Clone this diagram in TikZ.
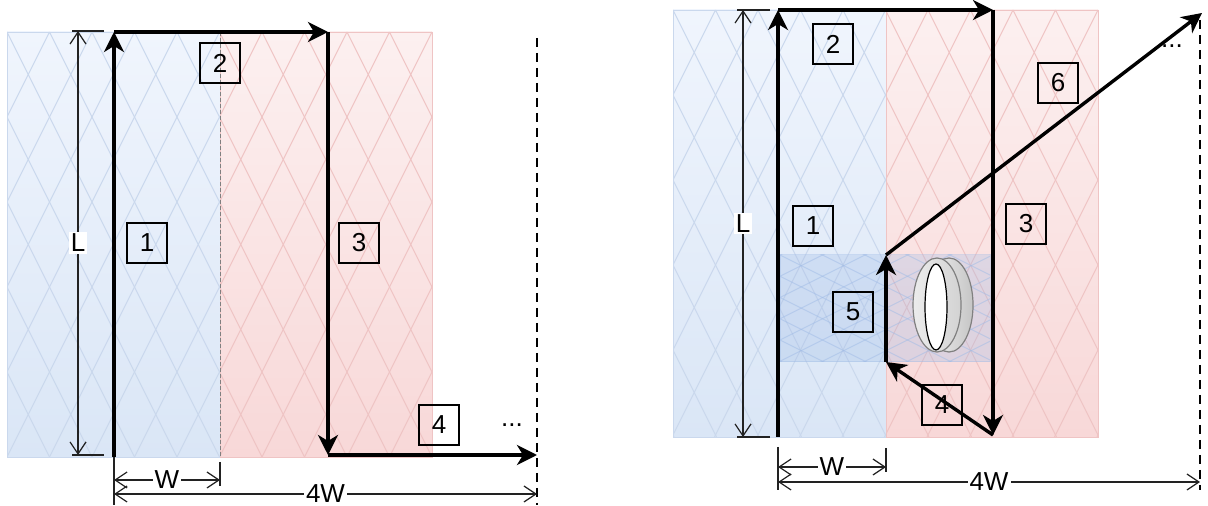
\documentclass[tikz,border=0pt]{standalone}
\usepackage{fontspec}
\setmainfont{Liberation Sans}
\usetikzlibrary{arrows.meta}

\definecolor{bluetop}{HTML}{F0F5FD}
\definecolor{bluebot}{HTML}{DAE6F6}
\definecolor{redtop}{HTML}{FCF0F0}
\definecolor{redbot}{HTML}{F8D8D8}
\definecolor{blueline}{HTML}{CAD8ED}
\definecolor{redline}{HTML}{EFC4C4}
\definecolor{zoneblue}{HTML}{9FBBE6}
\definecolor{dimgray}{HTML}{222222}

\tikzset{
    flow/.style={line width=1.7pt, -{Stealth[length=10pt,width=10pt,inset=3pt]}},
    dimline/.style={line width=0.6pt, draw=dimgray,
        {Straight Barb[length=6pt,width=8pt]}-{Straight Barb[length=6pt,width=8pt]}},
    ext/.style={line width=0.6pt, draw=dimgray},
    limit/.style={line width=1.3pt, dash pattern=on 4.5pt off 3pt},
    numbox/.style={draw, line width=0.6pt, minimum size=20pt, inner sep=0pt},
    dimlabel/.style={fill=white, inner sep=1pt},
    hatch/.style={line width=0.5pt},
}

\begin{document}
\begin{tikzpicture}[x=0.5pt, y=-0.5pt, font=\fontsize{13}{15}\selectfont]
    \useasboundingbox (0,0) rectangle (1208,506);

    %%% left: straight path
    \shade[top color=bluetop, bottom color=bluebot, draw=blueline] (7,32) rectangle (220,457);
    \shade[top color=redtop, bottom color=redbot, draw=redline] (220,32) rectangle (432,457);
    % hatching
    \begin{scope}
        \clip (7,32) rectangle (220,457);
        \foreach \k in {-5,...,15}
            \draw[hatch, blueline] ({7+42.5*\k},32) -- ++(212.5,425)
                ({7+42.5*\k},32) -- ++(-212.5,425);
    \end{scope}
    \begin{scope}
        \clip (220,32) rectangle (432,457);
        \foreach \k in {-5,...,15}
            \draw[hatch, redline] ({7+42.5*\k},32) -- ++(212.5,425)
                ({7+42.5*\k},32) -- ++(-212.5,425);
    \end{scope}
    \draw[gray, line width=0.5pt, dash pattern=on 2pt off 1pt] (220,32) -- (220,457);

    % path corners
    \coordinate (p0) at (114,457);
    \coordinate (p1) at (114,32);
    \coordinate (p2) at (328,32);
    \coordinate (p3) at (328,455);
    \coordinate (p4) at (537,455);
    \draw[flow] (p0) -- (p1);
    \draw[flow] (p1) -- (p2);
    \draw[flow] (p2) -- (p3);
    \draw[flow] (p3) -- (p4);
    \coordinate (e0) at (537,38);
    \coordinate (e1) at (537,505);
    \draw[limit] (e0) -- (e1);

    \node[numbox] (a1) at (147,243) {1};
    \node[numbox] (a2) at (220,63) {2};
    \node[numbox] (a3) at (359,243) {3};
    \node[numbox] (a4) at (439,425) {4};
    \node (adots) at (512,425) {...};

    % dimensions
    \draw[ext] (72,31) -- (104,31) (72,455) -- (104,455);
    \draw[dimline] (78,31) -- node[dimlabel] {L} (78,455);
    \draw[ext] (114,457) -- (114,505) (220,462) -- (220,486);
    \draw[dimline] (114,480) -- node[dimlabel] {W} (220,480);
    \draw[dimline] (114,494) -- node[dimlabel] {4W} (537,494);

    %%% right: path with the blockage
    \shade[top color=bluetop, bottom color=bluebot, draw=blueline] (673,10) rectangle (886,437);
    \shade[top color=redtop, bottom color=redbot, draw=redline] (886,10) rectangle (1098,437);
    \begin{scope}
        \clip (673,10) rectangle (886,437);
        \foreach \k in {-5,...,15}
            \draw[hatch, blueline] ({673+42.5*\k},10) -- ++(213.5,427)
                ({673+42.5*\k},10) -- ++(-213.5,427);
    \end{scope}
    \begin{scope}
        \clip (886,10) rectangle (1098,437);
        \foreach \k in {-5,...,15}
            \draw[hatch, redline] ({673+42.5*\k},10) -- ++(213.5,427)
                ({673+42.5*\k},10) -- ++(-213.5,427);
    \end{scope}

    % blocked zone
    \fill[zoneblue, opacity=0.3] (780,255) rectangle (990,362);
    \begin{scope}
        \clip (780,255) rectangle (990,362);
        \foreach \k in {-6,...,11}
            \draw[hatch, zoneblue, opacity=0.5] (780,{255+21.25*\k}) -- ++(214,107)
                (780,{255+21.25*\k}) -- ++(214,-107);
    \end{scope}
    \draw[zoneblue, opacity=0.4, line width=0.5pt] (780,255) rectangle (990,362);

    % obstacle
    \shade[left color=gray!10, right color=gray!45, draw=gray, line width=0.6pt]
        (949,305) ellipse [x radius=24, y radius=47];
    \shade[left color=gray!15, right color=gray!35, draw=gray, line width=0.6pt]
        (937,305) ellipse [x radius=24, y radius=47];
    \draw[fill=white, line width=0.6pt] (936,307) ellipse [x radius=11, y radius=43];

    \coordinate (q0) at (778,437);
    \coordinate (q1) at (778,10);
    \coordinate (q2) at (993,10);
    \coordinate (q3) at (993,435);
    \coordinate (q4) at (886,362);
    \coordinate (q5) at (886,255);
    \coordinate (q6) at (1202,13);
    \draw[flow] (q0) -- (q1);
    \draw[flow] (q1) -- (q2);
    \draw[flow] (q2) -- (q3);
    \draw[flow] (q3) -- (q4);
    \draw[flow] (q4) -- (q5);
    \draw[flow] (q5) -- (q6);
    \coordinate (f0) at (1200,20);
    \coordinate (f1) at (1200,490);
    \draw[limit] (f0) -- (f1);

    \node[numbox] (b1) at (813,226) {1};
    \node[numbox] (b2) at (833,44) {2};
    \node[numbox] (b3) at (1026,224) {3};
    \node[numbox] (b4) at (942,405) {4};
    \node[numbox] (b5) at (853,312) {5};
    \node[numbox] (b6) at (1058,83) {6};
    \node (bdots) at (1172,46) {...};

    % dimensions
    \draw[ext] (737,10) -- (770,10) (737,437) -- (770,437);
    \draw[dimline] (743,10) -- node[dimlabel] {L} (743,437);
    \draw[ext] (778,447) -- (778,490) (886,448) -- (886,472);
    \draw[dimline] (778,467) -- node[dimlabel] {W} (886,467);
    \draw[dimline] (778,482) -- node[dimlabel] {4W} (1200,482);
\end{tikzpicture}
\end{document}
